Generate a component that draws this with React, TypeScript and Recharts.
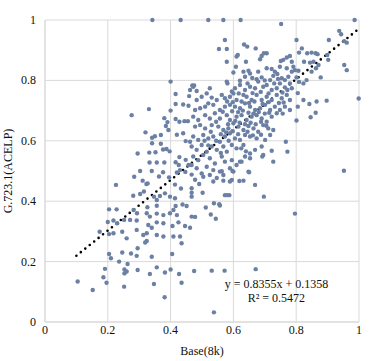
import React from 'react';
import { ScatterChart, Scatter, XAxis, YAxis, CartesianGrid, ReferenceLine, ReferenceDot } from 'recharts';

type P = [number, number];

// Base(8k) vs G.723.1(ACELP) readings, grouped by region of the plot
const leftCluster: P[] = [
  [0.342,1.0],[0.432,1.0],[0.40,0.796],[0.416,0.755],[0.276,0.685],[0.331,0.705],[0.416,0.722],[0.40,0.70],[0.44,0.72],[0.38,0.675],
  [0.39,0.662],[0.416,0.672],[0.385,0.649],[0.32,0.628],[0.341,0.61],[0.35,0.615],[0.369,0.619],[0.393,0.636],[0.42,0.62],[0.44,0.625],
  [0.341,0.592],[0.369,0.59],[0.295,0.558],[0.332,0.561],[0.352,0.562],[0.376,0.571],[0.387,0.573],[0.397,0.565],[0.428,0.546],[0.333,0.528],
  [0.356,0.528],[0.38,0.528],[0.416,0.529],[0.448,0.537],[0.426,0.52],[0.284,0.481],[0.303,0.5],[0.34,0.5],[0.376,0.496],[0.42,0.495],
  [0.43,0.503],[0.447,0.497],[0.363,0.482],[0.457,0.716],[0.459,0.748],[0.444,0.665],[0.455,0.665],[0.448,0.599],[0.462,0.597],[0.457,0.52],
  [0.428,0.663],[0.311,0.468],[0.323,0.457],[0.469,0.783],[0.475,0.783],[0.483,0.765],[0.531,0.743],
];

const lowerCluster: P[] = [
  [0.226,0.454],[0.281,0.418],[0.303,0.424],[0.315,0.432],[0.327,0.459],[0.347,0.415],[0.356,0.404],[0.326,0.38],[0.356,0.385],[0.366,0.417],
  [0.382,0.426],[0.398,0.415],[0.414,0.41],[0.416,0.384],[0.438,0.389],[0.451,0.384],[0.204,0.373],[0.228,0.373],[0.282,0.371],[0.293,0.36],
  [0.324,0.36],[0.356,0.359],[0.377,0.354],[0.398,0.36],[0.409,0.371],[0.42,0.354],[0.2,0.331],[0.218,0.336],[0.23,0.327],[0.252,0.338],
  [0.271,0.338],[0.292,0.336],[0.334,0.349],[0.356,0.33],[0.377,0.327],[0.329,0.321],[0.34,0.312],[0.406,0.318],[0.425,0.33],[0.446,0.318],
  [0.174,0.299],[0.204,0.291],[0.218,0.294],[0.246,0.299],[0.26,0.277],[0.292,0.305],[0.313,0.288],[0.324,0.294],[0.356,0.288],[0.377,0.283],
  [0.409,0.283],[0.43,0.283],[0.324,0.268],[0.319,0.263],[0.435,0.261],[0.295,0.244],[0.274,0.227],[0.204,0.225],[0.21,0.211],[0.236,0.2],
  [0.246,0.23],[0.34,0.216],[0.405,0.225],[0.263,0.192],[0.292,0.219],[0.356,0.181],[0.191,0.176],[0.253,0.174],[0.26,0.167],[0.253,0.161],
  [0.295,0.172],[0.334,0.159],[0.382,0.164],[0.4,0.174],[0.427,0.159],[0.186,0.148],[0.196,0.13],[0.104,0.134],[0.152,0.106],[0.252,0.117],
  [0.347,0.126],[0.435,0.13],[0.381,0.082],[0.414,0.455],[0.433,0.442],[0.395,0.479],
];

const lowerRight: P[] = [
  [0.467,0.443],[0.467,0.428],[0.467,0.415],[0.502,0.428],[0.491,0.457],[0.467,0.349],[0.478,0.348],[0.462,0.312],[0.475,0.169],[0.531,0.17],
  [0.572,0.17],[0.671,0.175],[0.538,0.032],[0.796,0.359],[0.697,0.415],[0.512,0.379],[0.528,0.356],[0.544,0.342],[0.538,0.393],[0.555,0.39],
  [0.573,0.42],[0.58,0.42],[0.587,0.42],[0.557,0.386],[0.536,0.465],[0.568,0.468],[0.589,0.465],[0.619,0.467],[0.632,0.468],[0.669,0.454],
  [0.65,0.496],[0.563,0.499],[0.597,0.5],[0.478,0.471],[0.547,0.477],[0.467,0.488],[0.952,0.501],
];

const upperCluster: P[] = [
  [0.520,1.0],[0.568,1.0],[0.623,1.0],[0.986,1.0],[0.752,0.987],[0.573,0.934],[0.801,0.934],[0.904,0.934],[0.937,0.964],[0.943,0.953],
  [0.953,0.93],[0.961,0.925],[0.634,0.919],[0.644,0.912],[0.554,0.904],[0.579,0.904],[0.671,0.906],[0.818,0.906],[0.614,0.884],[0.610,0.879],
  [0.690,0.881],[0.697,0.890],[0.706,0.890],[0.809,0.892],[0.835,0.890],[0.849,0.892],[0.862,0.890],[0.868,0.887],[0.899,0.884],[0.685,0.870],
  [0.579,0.862],[0.640,0.862],[0.751,0.864],[0.759,0.868],[0.770,0.876],[0.780,0.881],[0.786,0.862],[0.825,0.862],[0.844,0.859],[0.855,0.862],
  [0.902,0.868],[0.953,0.851],[0.608,0.845],[0.600,0.826],[0.632,0.829],[0.648,0.832],[0.679,0.829],[0.722,0.838],[0.706,0.840],[0.732,0.829],
  [0.748,0.845],[0.770,0.840],[0.796,0.834],[0.791,0.845],[0.849,0.829],[0.863,0.840],[0.871,0.851],[0.961,0.834],[0.579,0.796],[0.581,0.790],
  [0.621,0.799],[0.637,0.812],[0.653,0.823],[0.674,0.804],[0.690,0.810],[0.717,0.801],[0.727,0.815],[0.740,0.821],[0.754,0.807],[0.764,0.801],
  [0.775,0.812],[0.786,0.829],[0.801,0.810],[0.807,0.832],[0.833,0.801],[0.878,0.810],[0.809,0.795],
];

const centralCluster: P[] = [
  [0.595,0.763],[0.605,0.774],[0.621,0.785],[0.637,0.768],[0.653,0.779],[0.669,0.774],[0.679,0.796],[0.695,0.779],[0.706,0.785],[0.722,0.768],
  [0.738,0.774],[0.748,0.790],[0.764,0.777],[0.780,0.790],[0.786,0.774],[0.823,0.790],[0.525,0.774],[0.515,0.757],[0.472,0.779],[0.462,0.768],
  [0.805,0.758],[0.483,0.735],[0.499,0.746],[0.520,0.724],[0.547,0.735],[0.563,0.752],[0.573,0.741],[0.589,0.746],[0.600,0.757],[0.610,0.735],
  [0.626,0.730],[0.642,0.746],[0.658,0.735],[0.674,0.752],[0.690,0.735],[0.706,0.746],[0.722,0.735],[0.738,0.752],[0.754,0.741],[0.770,0.752],
  [0.780,0.735],[0.805,0.713],[0.823,0.735],[0.842,0.722],[0.865,0.730],[0.897,0.733],[0.999,0.740],[0.478,0.702],[0.494,0.708],[0.510,0.713],
  [0.536,0.719],[0.557,0.702],[0.573,0.713],[0.589,0.719],[0.605,0.713],[0.621,0.708],[0.637,0.724],[0.653,0.713],[0.669,0.702],[0.685,0.708],
  [0.701,0.719],[0.717,0.702],[0.732,0.713],[0.748,0.702],[0.764,0.713],[0.780,0.702],[0.846,0.678],[0.862,0.693],[0.472,0.680],[0.488,0.669],
  [0.510,0.685],[0.525,0.674],[0.541,0.691],[0.557,0.674],[0.579,0.685],[0.589,0.669],[0.610,0.680],[0.626,0.685],[0.642,0.669],[0.658,0.680],
  [0.674,0.685],[0.690,0.674],[0.706,0.663],[0.722,0.680],[0.738,0.691],[0.801,0.667],[0.478,0.647],[0.494,0.652],[0.510,0.641],[0.531,0.652],
  [0.552,0.647],[0.568,0.636],[0.584,0.641],[0.600,0.658],[0.616,0.647],[0.632,0.636],[0.648,0.649],[0.664,0.641],[0.679,0.630],[0.695,0.652],
  [0.711,0.641],[0.727,0.636],[0.472,0.614],[0.488,0.603],[0.504,0.619],[0.520,0.608],[0.536,0.614],[0.557,0.597],[0.573,0.614],[0.589,0.625],
  [0.605,0.608],[0.621,0.603],[0.637,0.619],[0.653,0.614],[0.674,0.608],[0.701,0.603],[0.717,0.619],[0.767,0.597],[0.467,0.581],[0.483,0.570],
  [0.499,0.586],[0.515,0.564],[0.531,0.581],[0.547,0.570],[0.568,0.581],[0.579,0.564],[0.595,0.586],[0.610,0.575],[0.632,0.586],[0.653,0.558],
  [0.669,0.570],[0.690,0.581],[0.722,0.567],[0.772,0.564],[0.472,0.548],[0.488,0.536],[0.504,0.553],[0.525,0.542],[0.541,0.525],[0.563,0.548],
  [0.573,0.531],[0.595,0.536],[0.621,0.531],[0.637,0.548],[0.653,0.542],[0.695,0.553],[0.727,0.531],[0.692,0.548],[0.467,0.520],[0.483,0.509],
  [0.499,0.492],[0.515,0.514],[0.536,0.503],[0.557,0.498],[0.568,0.487],[0.589,0.509],[0.600,0.498],[0.610,0.520],[0.626,0.531],[0.648,0.498],
  [0.504,0.481],[0.525,0.487],[0.595,0.470],
];

// extra readings in the densest part of the cloud
const coreCluster: P[] = [
  [0.645,0.790],[0.661,0.758],[0.687,0.762],[0.712,0.757],[0.730,0.790],[0.756,0.760],[0.772,0.768],[0.700,0.800],[0.660,0.808],[0.742,0.805],
  [0.617,0.757],[0.632,0.752],[0.650,0.725],[0.667,0.730],[0.693,0.722],[0.712,0.728],[0.745,0.725],[0.760,0.727],[0.598,0.728],[0.580,0.730],
  [0.615,0.695],[0.630,0.700],[0.648,0.693],[0.664,0.690],[0.681,0.695],[0.700,0.690],[0.714,0.693],[0.757,0.690],[0.566,0.696],[0.596,0.698],
  [0.583,0.655],[0.606,0.666],[0.620,0.660],[0.637,0.655],[0.655,0.660],[0.671,0.655],[0.688,0.663],[0.705,0.650],[0.545,0.663],[0.528,0.630],
  [0.560,0.622],[0.577,0.628],[0.598,0.632],[0.615,0.622],[0.645,0.630],[0.662,0.618],[0.688,0.620],[0.508,0.600],[0.545,0.600],[0.585,0.600],
  [0.625,0.575],[0.640,0.565],[0.560,0.560],[0.520,0.585],
];

const axisTicks = [0, 0.2, 0.4, 0.6, 0.8, 1];
const xAxisTitle = 'Base(8k)';
const yAxisTitle = 'G.723.1(ACELP)';
const trendEquation = 'y = 0.8355x + 0.1358';
const trendR2 = 'R² = 0.5472';
const trendStart = { x: 0.1, y: 0.2194 };
const trendEnd = { x: 1, y: 0.9713 };
const equationAnchor = { x: 0.737, y: 0.1126 };

const points = [...leftCluster, ...lowerCluster, ...lowerRight, ...upperCluster, ...centralCluster, ...coreCluster].map(([x, y]) => ({ x, y }));

const FONT = "'Liberation Serif', 'Times New Roman', serif";
const TEXT = '#111111';
const GRID = '#d9d9d9';
const DOT = '#6B80A4';

const Dot = (props: any) => <circle cx={props.cx} cy={props.cy} r={2.2} fill={DOT} />;

const XTick = (props: any) => (
  <text x={props.x} y={props.y + 12} textAnchor="middle" style={{ fontFamily: FONT, fontSize: 12, fill: TEXT }}>
    {String(props.payload.value)}
  </text>
);

const YTick = (props: any) => (
  <text x={props.x} y={props.y + 4} textAnchor="end" style={{ fontFamily: FONT, fontSize: 12, fill: TEXT }}>
    {String(props.payload.value)}
  </text>
);

export default function App() {
  return (
    <div style={{ position: 'absolute', left: 0, top: 0, width: 381, height: 361, background: '#fff', fontFamily: FONT }}>
      <ScatterChart width={381} height={361} margin={{ top: 20, right: 22, bottom: 0, left: 0 }} style={{ fontFamily: FONT }}>
        <CartesianGrid stroke={GRID} strokeWidth={1} />
        <XAxis
          type="number"
          dataKey="x"
          domain={[0, 1]}
          ticks={axisTicks}
          height={39}
          tickSize={0}
          tickMargin={0}
          tickLine={false}
          axisLine={{ stroke: GRID }}
          tick={<XTick />}
          label={{
            content: (p: any) => (
              <text x={p.viewBox.x + p.viewBox.width / 2} y={p.viewBox.y + 33} textAnchor="middle" style={{ fontFamily: FONT, fontSize: 12, fill: TEXT }}>
                {xAxisTitle}
              </text>
            ),
          }}
        />
        <YAxis
          type="number"
          dataKey="y"
          domain={[0, 1]}
          ticks={axisTicks}
          width={45}
          tickSize={0}
          tickMargin={9}
          tickLine={false}
          axisLine={{ stroke: GRID }}
          tick={<YTick />}
          label={{
            content: (p: any) => {
              const cx = 11.5;
              const cy = p.viewBox.y + p.viewBox.height / 2;
              return (
                <text x={cx} y={cy} transform={`rotate(-90, ${cx}, ${cy})`} textAnchor="middle" style={{ fontFamily: FONT, fontSize: 12, fill: TEXT }}>
                  {yAxisTitle}
                </text>
              );
            },
          }}
        />
        <Scatter data={points} isAnimationActive={false} shape={Dot} />
        <ReferenceLine
          segment={[trendStart, trendEnd]}
          stroke="#000"
          strokeWidth={2.6}
          strokeDasharray="0 5.7"
          strokeLinecap="round"
          ifOverflow="visible"
        />
        <ReferenceDot
          x={equationAnchor.x}
          y={equationAnchor.y}
          r={0}
          fill="none"
          stroke="none"
          label={{
            content: (p: any) => {
              const cx = p.viewBox.x + (p.viewBox.width || 0) / 2;
              const cy = p.viewBox.y + (p.viewBox.height || 0) / 2;
              return (
                <g style={{ fontFamily: FONT, fontSize: 12, fill: TEXT }}>
                  <text x={cx} y={cy} textAnchor="middle">{trendEquation}</text>
                  <text x={cx} y={cy + 14} textAnchor="middle">{trendR2}</text>
                </g>
              );
            },
          }}
        />
      </ScatterChart>
    </div>
  );
}
